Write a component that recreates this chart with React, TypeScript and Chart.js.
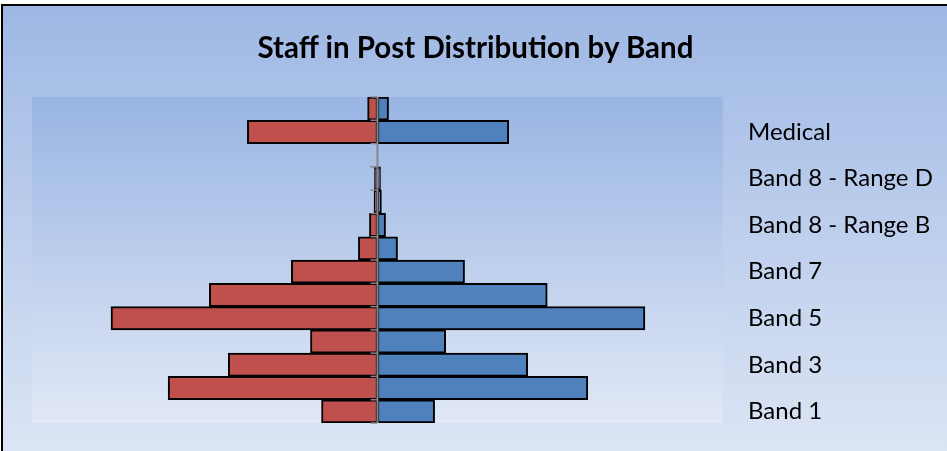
import React, { useEffect, useRef } from "react";
import { Chart, registerables } from "chart.js";

Chart.register(...registerables);

const categories = [
  "Band 1",
  "Band 2",
  "Band 3",
  "Band 4",
  "Band 5",
  "Band 6",
  "Band 7",
  "Band 8 - Range A",
  "Band 8 - Range B",
  "Band 8 - Range C",
  "Band 8 - Range D",
  "Band 9",
  "Medical",
  "Other",
];

// percentage of staff (left side drawn as negative)
const leftValues = [2.43, 9.09, 6.48, 2.91, 11.57, 7.3, 3.74, 0.83, 0.35, 0.15, 0.13, 0, 5.65, 0.43];
const rightValues = [2.48, 9.13, 6.52, 2.96, 11.61, 7.37, 3.78, 0.87, 0.35, 0.17, 0.13, 0, 5.7, 0.48];

const axisMax = 15;

const plotBackground = {
  id: "plotBackground",
  beforeDraw(chart: any) {
    const { ctx, chartArea } = chart;
    if (!chartArea) return;
    const g = ctx.createLinearGradient(0, chartArea.top, 0, chartArea.bottom);
    g.addColorStop(0, "rgb(153,181,227)");
    g.addColorStop(1, "rgb(225,232,246)");
    ctx.save();
    ctx.fillStyle = g;
    ctx.fillRect(chartArea.left, chartArea.top, chartArea.right - chartArea.left, chartArea.bottom - chartArea.top);
    ctx.restore();
  },
};

const centerAxis = {
  id: "centerAxis",
  afterDatasetsDraw(chart: any) {
    const { ctx, chartArea, scales } = chart;
    const x0 = scales.x.getPixelForValue(0);
    const ys = scales.y;
    const n = categories.length;
    const p0 = ys.getPixelForValue(0);
    const p1 = ys.getPixelForValue(1);
    const step = Math.abs(p1 - p0);
    ctx.save();
    ctx.strokeStyle = "#858585";
    ctx.lineWidth = 2;
    ctx.beginPath();
    ctx.moveTo(x0, chartArea.top);
    ctx.lineTo(x0, chartArea.bottom);
    ctx.stroke();
    ctx.lineWidth = 1.5;
    for (let i = 0; i < n; i++) {
      const c = ys.getPixelForValue(i);
      const b = c + step / 2;
      ctx.beginPath();
      ctx.moveTo(x0 - 7, b);
      ctx.lineTo(x0, b);
      ctx.stroke();
      if (i === n - 1) {
        const t = c - step / 2;
        ctx.beginPath();
        ctx.moveTo(x0 - 7, t);
        ctx.lineTo(x0, t);
        ctx.stroke();
      }
    }
    ctx.restore();
  },
};

export default function App() {
  const ref = useRef<HTMLCanvasElement | null>(null);

  useEffect(() => {
    if (!ref.current) return;
    const chart = new Chart(ref.current, {
      type: "bar",
      data: {
        labels: categories,
        datasets: [
          {
            label: "Left",
            data: leftValues.map((v) => -v),
            backgroundColor: "#C0504D",
            borderColor: "#000000",
            borderWidth: 2,
            borderSkipped: false,
            barPercentage: 1,
            categoryPercentage: 1,
          },
          {
            label: "Right",
            data: rightValues,
            backgroundColor: "#4F81BD",
            borderColor: "#000000",
            borderWidth: 2,
            borderSkipped: false,
            barPercentage: 1,
            categoryPercentage: 1,
          },
        ],
      },
      options: {
        indexAxis: "y",
        animation: false,
        responsive: false,
        maintainAspectRatio: false,
        layout: { padding: { left: 32, top: 97, right: 0, bottom: 28 } },
        plugins: {
          legend: { display: false },
          title: { display: false },
          tooltip: { enabled: false },
        },
        scales: {
          x: {
            display: false,
            stacked: true,
            min: -axisMax,
            max: axisMax,
          },
          y: {
            stacked: true,
            reverse: true,
            position: "right",
            grid: { display: false, drawTicks: false },
            border: { display: false },
            afterFit(scale: any) {
              scale.width = 224;
              scale.paddingTop = 0;
              scale.paddingBottom = 0;
            },
            ticks: {
              autoSkip: false,
              padding: 25,
              color: "#000000",
              font: { family: "Lato, sans-serif", size: 24 },
              callback: (_v: any, idx: number) => (idx % 2 === 0 && idx < 13 ? categories[idx] : ""),
            },
          },
        },
      },
      plugins: [plotBackground, centerAxis],
    });
    return () => chart.destroy();
  }, []);

  return (
    <div style={{ position: "fixed", left: 0, top: 0, width: 947, height: 451, background: "#ffffff", overflow: "hidden" }}>
      <div
        style={{
          position: "absolute",
          left: 1,
          top: 4,
          width: 960,
          height: 460,
          borderLeft: "2px solid #000",
          borderTop: "2px solid #000",
          background: "linear-gradient(to bottom, rgb(158,184,228) 0%, rgb(222,230,245) 100%)",
        }}
      />
      <canvas ref={ref} width={947} height={451} style={{ position: "absolute", left: 0, top: 0, width: 947, height: 451 }} />
      <div
        style={{
          position: "absolute",
          left: 2,
          top: 29,
          width: 947,
          textAlign: "center",
          fontFamily: "Lato, sans-serif",
          fontWeight: 700,
          fontSize: 29.5,
          lineHeight: "36px",
          color: "#000",
        }}
      >
        Staff in Post Distribution by Band
      </div>
    </div>
  );
}
